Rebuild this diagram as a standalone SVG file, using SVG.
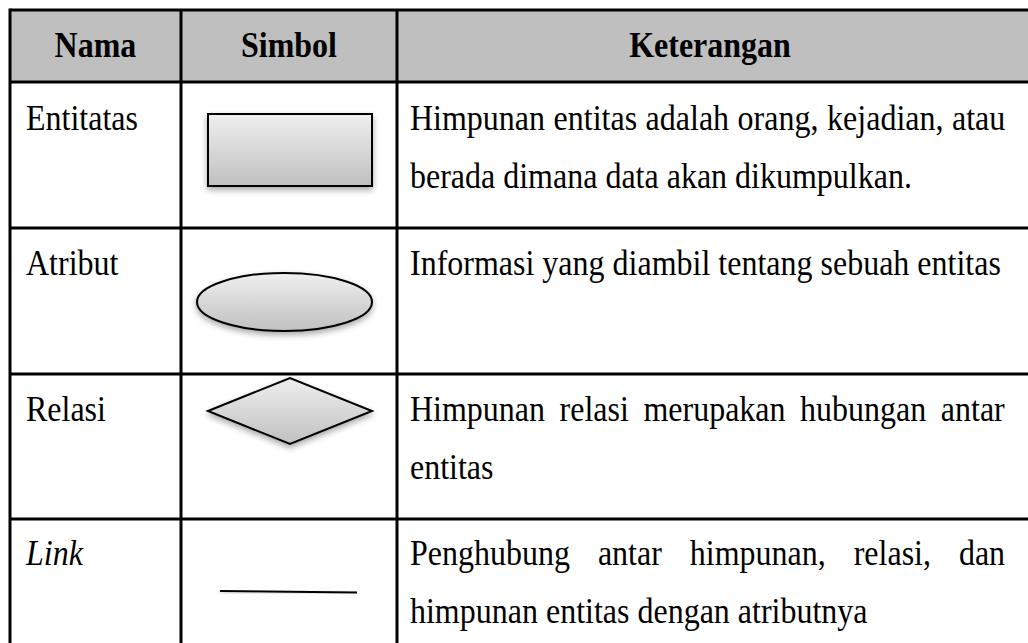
<svg xmlns="http://www.w3.org/2000/svg" width="1028" height="643" viewBox="0 0 1028 643">
  <defs>
    <linearGradient id="symFill" x1="0" y1="0" x2="0" y2="1">
      <stop offset="0" stop-color="#efefef"/>
      <stop offset="1" stop-color="#c0c0c0"/>
    </linearGradient>
    <filter id="shadow" x="-20%" y="-30%" width="140%" height="170%">
      <feDropShadow dx="0" dy="3" stdDeviation="3" flood-color="#000" flood-opacity="0.35"/>
    </filter>
    <style>
      .grid { stroke: #000; stroke-width: 3; fill: none; }
      .hdr { font-family: "Liberation Serif", "Times New Roman", serif; font-weight: bold; font-size: 32px; fill: #000; text-anchor: middle; }
      .txt { font-family: "Liberation Serif", "Times New Roman", serif; font-size: 32px; fill: #000; }
      .sym { fill: url(#symFill); stroke: #000; stroke-width: 2; filter: url(#shadow); }
    </style>
  </defs>

  <rect width="1028" height="643" fill="#fff"/>

  <!-- header band; glyphs are drawn slightly taller than wide -->
  <g id="header">
    <rect x="10" y="10" width="1018" height="72" fill="#bfbfbf"/>
    <g transform="translate(0,57) scale(1,1.12)">
      <text class="hdr" x="95.5" y="0">Nama</text>
      <text class="hdr" x="289" y="0">Simbol</text>
      <text class="hdr" x="710" y="0">Keterangan</text>
    </g>
  </g>

  <!-- table rules -->
  <g id="grid" class="grid">
    <line x1="10" y1="10" x2="1028" y2="10"/>
    <line x1="10" y1="82" x2="1028" y2="82"/>
    <line x1="10" y1="228" x2="1028" y2="228"/>
    <line x1="10" y1="374" x2="1028" y2="374"/>
    <line x1="10" y1="519" x2="1028" y2="519"/>
    <line x1="10" y1="8.5" x2="10" y2="643"/>
    <line x1="181" y1="10" x2="181" y2="643"/>
    <line x1="397" y1="10" x2="397" y2="643"/>
  </g>

  <!-- row: entity set -->
  <g id="row-entitas">
    <g transform="translate(0,130) scale(1,1.12)">
      <text class="txt" x="26" y="0">Entitatas</text>
      <text class="txt" y="0"><tspan x="410">Himpunan</tspan><tspan x="553.6">entitas</tspan><tspan x="645.6">adalah</tspan><tspan x="737.6">orang,</tspan><tspan x="827.1">kejadian,</tspan><tspan x="952">atau</tspan></text>
    </g>
    <g transform="translate(0,188) scale(1,1.12)">
      <text class="txt" x="410" y="0">berada dimana data akan dikumpulkan.</text>
    </g>
    <rect id="sym-entitas" class="sym" x="208" y="114" width="164" height="72"/>
  </g>

  <!-- row: attribute -->
  <g id="row-atribut">
    <g transform="translate(0,275) scale(1,1.12)">
      <text class="txt" x="26" y="0">Atribut</text>
      <text class="txt" x="410" y="0">Informasi yang diambil tentang sebuah entitas</text>
    </g>
    <ellipse id="sym-atribut" class="sym" cx="284.5" cy="302" rx="87.5" ry="29"/>
  </g>

  <!-- row: relationship -->
  <g id="row-relasi">
    <g transform="translate(0,421) scale(1,1.12)">
      <text class="txt" x="26" y="0">Relasi</text>
      <text class="txt" y="0"><tspan x="410">Himpunan</tspan><tspan x="559.6">relasi</tspan><tspan x="643.4">merupakan</tspan><tspan x="800.1">hubungan</tspan><tspan x="940.8">antar</tspan></text>
    </g>
    <g transform="translate(0,479) scale(1,1.12)">
      <text class="txt" x="410" y="0">entitas</text>
    </g>
    <polygon id="sym-relasi" class="sym" points="208,411 290,378 372,411 290,444"/>
  </g>

  <!-- row: link -->
  <g id="row-link">
    <g transform="translate(0,565) scale(1,1.12)">
      <text class="txt" x="26" y="0" font-style="italic">Link</text>
      <text class="txt" y="0"><tspan x="410">Penghubung</tspan><tspan x="597.9">antar</tspan><tspan x="689.8">himpunan,</tspan><tspan x="853.7">relasi,</tspan><tspan x="958.9">dan</tspan></text>
    </g>
    <g transform="translate(0,623) scale(1,1.12)">
      <text class="txt" x="410" y="0">himpunan entitas dengan atributnya</text>
    </g>
    <line id="sym-link" x1="220" y1="591" x2="357" y2="592.5" stroke="#000" stroke-width="2.2" filter="url(#shadow)"/>
  </g>
</svg>
